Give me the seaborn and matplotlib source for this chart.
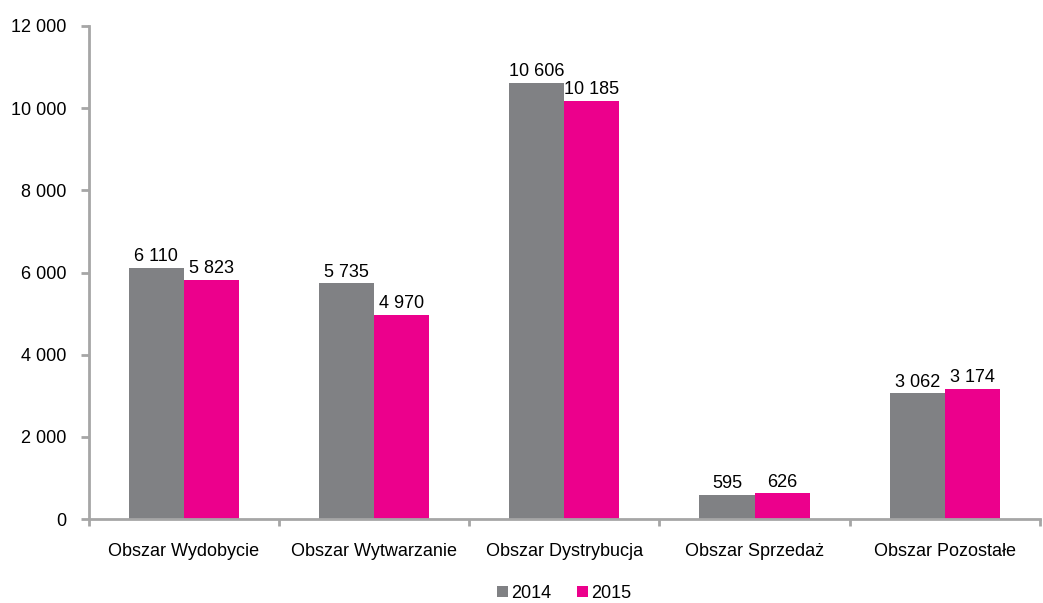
import pandas as pd
import numpy as np
import matplotlib
matplotlib.use("Agg")
import matplotlib.pyplot as plt
import seaborn as sns

# Chart data
categories = ["Obszar Wydobycie", "Obszar Wytwarzanie", "Obszar Dystrybucja",
              "Obszar Sprzedaż", "Obszar Pozostałe"]
values_2014 = [6110, 5735, 10606, 595, 3062]
values_2015 = [5823, 4970, 10185, 626, 3174]
years = ["2014", "2015"]
colors = ["#808184", "#EC008C"]
y_ticks = [0, 2000, 4000, 6000, 8000, 10000, 12000]


def fmt(v):
    return f"{v:,.0f}".replace(",", " ")


df = pd.DataFrame({
    "Obszar": categories * 2,
    "Rok": [years[0]] * len(categories) + [years[1]] * len(categories),
    "Wartosc": values_2014 + values_2015,
})

sns.set_style("white")
plt.rcParams["font.family"] = ["Liberation Sans", "DejaVu Sans"]
plt.rcParams["text.color"] = "black"
plt.rcParams["xtick.color"] = "#a6a6a6"
plt.rcParams["ytick.color"] = "#a6a6a6"
plt.rcParams["xtick.labelcolor"] = "black"
plt.rcParams["ytick.labelcolor"] = "black"

fs = 13

fig = plt.figure(figsize=(10.43, 6.03), dpi=100)
ax = fig.add_axes([0.085, 0.139, 0.912, 0.818])

sns.barplot(data=df, x="Obszar", y="Wartosc", hue="Rok", palette=colors,
            width=0.58, saturation=1, linewidth=0, ax=ax, legend=True)

# value labels
for cont in ax.containers:
    vals = [bar.get_height() for bar in cont]
    ax.bar_label(cont, labels=[fmt(v) for v in vals], padding=2, fontsize=fs)

ax.set_ylim(0, 12000)
ax.set_xlim(-0.5, len(categories) - 0.5)
ax.set_yticks(y_ticks)
ax.set_yticklabels([fmt(t) for t in y_ticks], fontsize=fs)
ax.set_xlabel("")
ax.set_ylabel("")
ax.set_xticks(np.arange(-0.5, len(categories)), minor=True)
ax.tick_params(axis="x", which="major", bottom=True, length=0, labelsize=fs, pad=17)
ax.tick_params(axis="x", which="minor", bottom=True, length=5, width=2, direction="out")
ax.tick_params(axis="y", left=True, length=6, width=2, direction="out", pad=10)

for side in ["top", "right"]:
    ax.spines[side].set_visible(False)
for side in ["left", "bottom"]:
    ax.spines[side].set_color("#a6a6a6")
    ax.spines[side].set_linewidth(2)

handles, labels = ax.get_legend_handles_labels()
ax.legend(handles, labels, loc="center", bbox_to_anchor=(0.5, -0.15),
          ncol=2, frameon=False, fontsize=fs, handlelength=0.6, handleheight=0.6,
          handletextpad=0.2, columnspacing=1.4, borderpad=0)

fig.savefig("out.png", dpi=100)
